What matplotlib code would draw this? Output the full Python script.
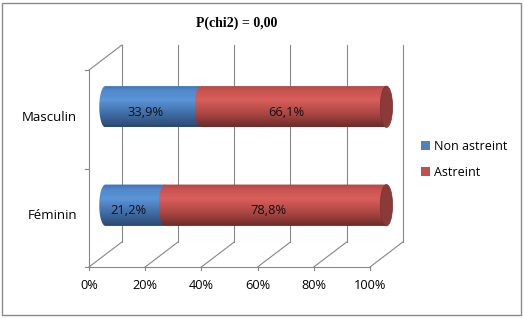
import matplotlib.pyplot as plt
import numpy as np
from matplotlib.path import Path
from matplotlib.patches import PathPatch, Ellipse, Rectangle
from matplotlib.colors import LinearSegmentedColormap

categories = ['Féminin', 'Masculin']
non_astreint = [21.2, 33.9]
astreint = [78.8, 66.1]
series_names = ['Non astreint', 'Astreint']
x_ticks = [0, 20, 40, 60, 80, 100]
x_tick_labels = ['0%', '20%', '40%', '60%', '80%', '100%']
title = 'P(chi2) = 0,00'

# pseudo 3D: depth offset of the back wall in data units
DX, DY = 11.7, 0.254
BAR_H = 0.21      # half height of cylinder
CAP_W = 2.2       # half width of the end ellipses
GRID = '#868686'
FONT = 'Open Sans'

blue_cmap = LinearSegmentedColormap.from_list('b', [
    (0.0, '#2a4870'), (0.3, '#3e6ba3'), (0.65, '#5b94d8'),
    (0.88, '#5088cb'), (1.0, '#4273ab')])
red_cmap = LinearSegmentedColormap.from_list('r', [
    (0.0, '#6c2b29'), (0.3, '#a84542'), (0.65, '#d85f5b'),
    (0.88, '#c95350'), (1.0, '#a94a47')])


def proj(x, y, d):
    return x + d * DX, y + d * DY


def segment(ax, x0, x1, yc, cmap):
    th = np.linspace(np.pi / 2, 3 * np.pi / 2, 40)
    pts = [(x0 + CAP_W * np.cos(t), yc + BAR_H * np.sin(t)) for t in th]
    pts += [(x1, yc - BAR_H), (x1, yc + BAR_H), pts[0]]
    codes = [Path.MOVETO] + [Path.LINETO] * (len(pts) - 2) + [Path.CLOSEPOLY]
    patch = PathPatch(Path(pts, codes), facecolor='none', edgecolor='none')
    ax.add_patch(patch)
    grad = np.linspace(0, 1, 200).reshape(-1, 1)
    im = ax.imshow(grad, cmap=cmap, origin='lower', aspect='auto',
                   extent=[x0 - CAP_W, x1, yc - BAR_H, yc + BAR_H], zorder=3)
    im.set_clip_path(patch)


fig = plt.figure(figsize=(5.24, 3.18), dpi=100)
ax = fig.add_axes([0, 0, 1, 1])
ax.axis('off')

# back wall vertical grid lines and floor lines
for t, lab in zip(x_ticks, x_tick_labels):
    bx, by = proj(t, 0, 1)
    tx, ty = proj(t, 2, 1)
    ax.plot([bx, tx], [by, ty], color=GRID, lw=0.8, zorder=1)
    ax.plot([t, bx], [0, by], color=GRID, lw=0.8, zorder=1)
    ax.plot([t, t], [0, -0.035], color=GRID, lw=0.8, zorder=1)
    ax.text(t, -0.19, lab, ha='center', va='center',
            fontsize=9.2, family=FONT, color='#000000')

# front axes and left wall top edge
ax.plot([0, 100], [0, 0], color=GRID, lw=0.8, zorder=1)
ax.plot([0, 0], [0, 2], color=GRID, lw=0.8, zorder=1)
for yy in [0, 1, 2]:
    ax.plot([-1.4, 0], [yy, yy], color=GRID, lw=0.8, zorder=1)
tx, ty = proj(0, 2, 1)
ax.plot([0, tx], [2, ty], color=GRID, lw=0.8, zorder=1)

# cylinders
for i, cat in enumerate(categories):
    x0, yc = proj(0, i + 0.5, 0.5)
    xs = x0 + non_astreint[i]
    xe = xs + astreint[i]
    segment(ax, x0, xs, yc, blue_cmap)
    segment(ax, xs, xe, yc, red_cmap)
    ax.add_patch(Ellipse((xe, yc), 2 * CAP_W, 2 * BAR_H, facecolor='#8a3a38',
                         edgecolor='#7a3230', lw=0.5, zorder=4))
    for a, b, v in [(0, non_astreint[i], non_astreint[i]),
                    (non_astreint[i], 100, astreint[i])]:
        lx, ly = proj((a + b) / 2, i + 0.5, 0.28)
        ax.text(lx, ly, f'{v:.1f}%'.replace('.', ','), ha='center', va='center',
                fontsize=9.3, family=FONT, color='#111111', zorder=5)
    ax.text(-4.3, i + 0.5 + 0.02, cat, ha='right', va='center', fontsize=9.5,
            family=FONT, color='#000000')

ax.set_xlim(-31.67, 154.8)
ax.set_ylim(-0.518, 2.711)

handles = [Rectangle((0, 0), 1, 1, facecolor='#4f81bd'),
           Rectangle((0, 0), 1, 1, facecolor='#c0504d')]
fig.legend(handles, series_names, loc='center left',
           bbox_to_anchor=(421 / 524, 1 - 159.5 / 318), frameon=False,
           prop={'family': FONT, 'size': 9}, handlelength=0.7, handleheight=0.7,
           handletextpad=0.3, labelspacing=1.05, borderpad=0, borderaxespad=0)

fig.text(237 / 524, 1 - 23 / 318, title, ha='center', va='center',
         fontsize=10, family='Liberation Serif', fontweight='bold')

fig.patches.append(Rectangle((2 / 524, 3 / 318), 519 / 524, 312 / 318,
                             transform=fig.transFigure, fill=False,
                             edgecolor='#8a8a8a', lw=1))

fig.savefig('out.png', dpi=100)
